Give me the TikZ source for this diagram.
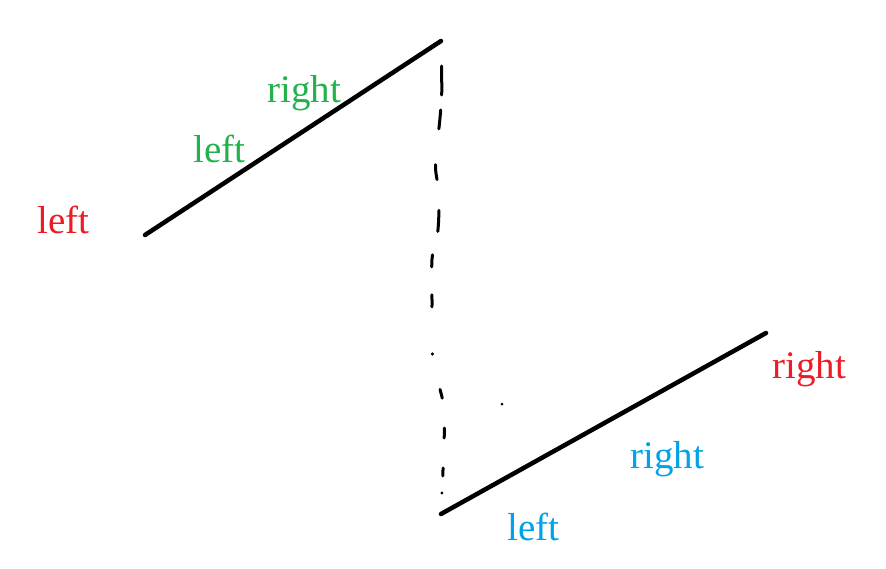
\documentclass[tikz,border=0pt]{standalone}
\usepackage{fontspec}
\setmainfont{Liberation Serif}
\definecolor{pred}{HTML}{ED1C24}
\definecolor{pgreen}{HTML}{22B14C}
\definecolor{pblue}{HTML}{00A2E8}
\begin{document}
\begin{tikzpicture}[x=1pt,y=-1pt,
  lbl/.style={anchor=base west,inner sep=0pt,font=\fontsize{39}{46}\selectfont},
  stroke/.style={line width=4.5pt,line cap=round},
  dashline/.style={line width=3pt,line cap=round,
    dash pattern=on 0pt off 25pt on 29pt off 15pt on 19pt off 36pt on 15pt off 31pt on 21pt off 24pt on 12pt off 28pt on 12pt off 47pt on 0.5pt off 36pt on 9pt off 30pt on 10pt off 30pt on 8pt off 17pt on 0.1pt off 40pt}]
\useasboundingbox (0,0) rectangle (886,568);
\coordinate (A1) at (145,235);
\coordinate (A2) at (441,41);
\coordinate (B1) at (441,514);
\coordinate (B2) at (766,333);
\draw[stroke] (A1) -- (A2);
\draw[stroke] (B1) -- (B2);
\draw[dashline] plot[smooth,tension=0.5] coordinates {(A2) (441.5,63) (441.7,95) (440,118) (435.5,165) (438.5,188) (439,208) (437.7,232) (432.5,255) (431.7,270) (432,300) (432.3,353) (439,385) (443.5,405) (444.3,433) (443,470) (442,492) (B1)};
\fill (502,404) circle (1.5pt);
\node[lbl,text=pred] (l1) at (37,233) {left};
\node[lbl,text=pgreen] (l2) at (193,162) {left};
\node[lbl,text=pgreen] (r1) at (267,102) {right};
\node[lbl,text=pred] (r2) at (772,378) {right};
\node[lbl,text=pblue] (r3) at (630,468) {right};
\node[lbl,text=pblue] (l3) at (507,540) {left};
\end{tikzpicture}
\end{document}
